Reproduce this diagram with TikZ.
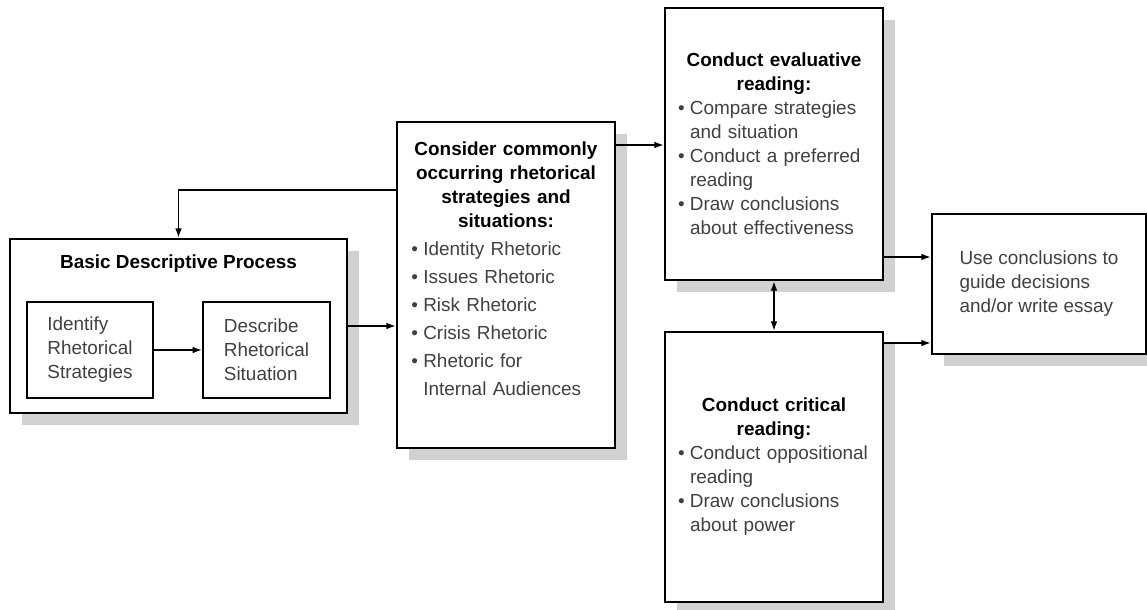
\documentclass[tikz,border=0pt]{standalone}
\usepackage{fontspec}
\setmainfont{Liberation Sans}
\usetikzlibrary{arrows.meta,shadows}
\tikzstyle{flat box}=[draw,line width=1.6pt,fill=white,inner sep=0pt,text=black!75,
    font=\fontsize{14.2}{18}\selectfont]
\tikzstyle{box}=[flat box,line width=2pt,
    drop shadow={shadow xshift=9pt,shadow yshift=-9pt,fill=black!18,opacity=1}]
\tikzstyle{arrow}=[draw,line width=1pt,-{Latex[length=7pt,width=5pt]}]
\newcommand{\bitem}[1]{\par\hangindent=9pt\hangafter=1\noindent\makebox[9pt][l]{\textbullet}#1\par}
\newcommand{\btitle}[1]{{\centering\bfseries\color{black}#1\par}}
\begin{document}
\begin{tikzpicture}[x=0.75pt,y=-0.75pt]
    \useasboundingbox (0,0) rectangle (1147,610);
    % The descriptive process with its two steps
    \node[box,minimum width=252.75pt,minimum height=130.5pt,
        label={[anchor=base,yshift=-23.25pt,font=\fontsize{14.2}{18}\selectfont\bfseries]north:Basic Descriptive Process}] (basic) at (178.5,326) {};
    \node[flat box,minimum width=94.5pt,minimum height=72pt,align=left] (ident) at (90,350) {Identify\\Rhetorical\\Strategies};
    \node[flat box,minimum width=95.25pt,minimum height=72pt,align=left] (descr) at (266.5,350) {Describe\\Rhetorical\\Situation};

    % Then the readings
    \node[box,text width=142pt,minimum width=163.5pt,minimum height=244.5pt,align=left] (consider) at (506,285)
        {\btitle{Consider commonly\\occurring rhetorical\\strategies and\\situations:}\baselineskip=21pt
         \bitem{Identity Rhetoric}\bitem{Issues Rhetoric}\bitem{Risk Rhetoric}\bitem{Crisis Rhetoric}%
         \bitem{Rhetoric for\newline Internal Audiences\rule[-25pt]{0pt}{0pt}}};
    \node[box,text width=144pt,minimum width=163.5pt,minimum height=204pt,align=left] (evalr) at (774,144)
        {\btitle{Conduct evaluative\\reading:}\bitem{Compare strategies\newline and situation}%
         \bitem{Conduct a preferred\newline reading}\bitem{Draw conclusions\newline about effectiveness}};
    \node[box,text width=144pt,minimum width=163.5pt,minimum height=202.5pt,align=left] (critr) at (774,467)
        {\btitle{Conduct critical\\reading:}\bitem{Conduct oppositional\newline reading}%
         \bitem{Draw conclusions\newline about power}};
    \node[box,minimum width=160.5pt,minimum height=105pt,align=left] (usec) at (1039,284)
        {Use conclusions to\\guide decisions\\and/or write essay};

    % Connect the boxes
    \draw[arrow] (ident) -- (descr);
    \draw[arrow] (basic.east) -- (basic.east -| consider.west);
    \draw[arrow] (consider.west |- 0,190) -| (basic.north);
    \draw[arrow] (consider.east |- 0,145) -- (evalr.west |- 0,145);
    \draw[arrow,{Latex[length=7pt,width=5pt]}-{Latex[length=7pt,width=5pt]}] (evalr) -- (critr);
    \draw[arrow] (evalr.east |- 0,257) -- (usec.west |- 0,257);
    \draw[arrow] (critr.east |- 0,343) -- (usec.west |- 0,343);
\end{tikzpicture}
\end{document}
